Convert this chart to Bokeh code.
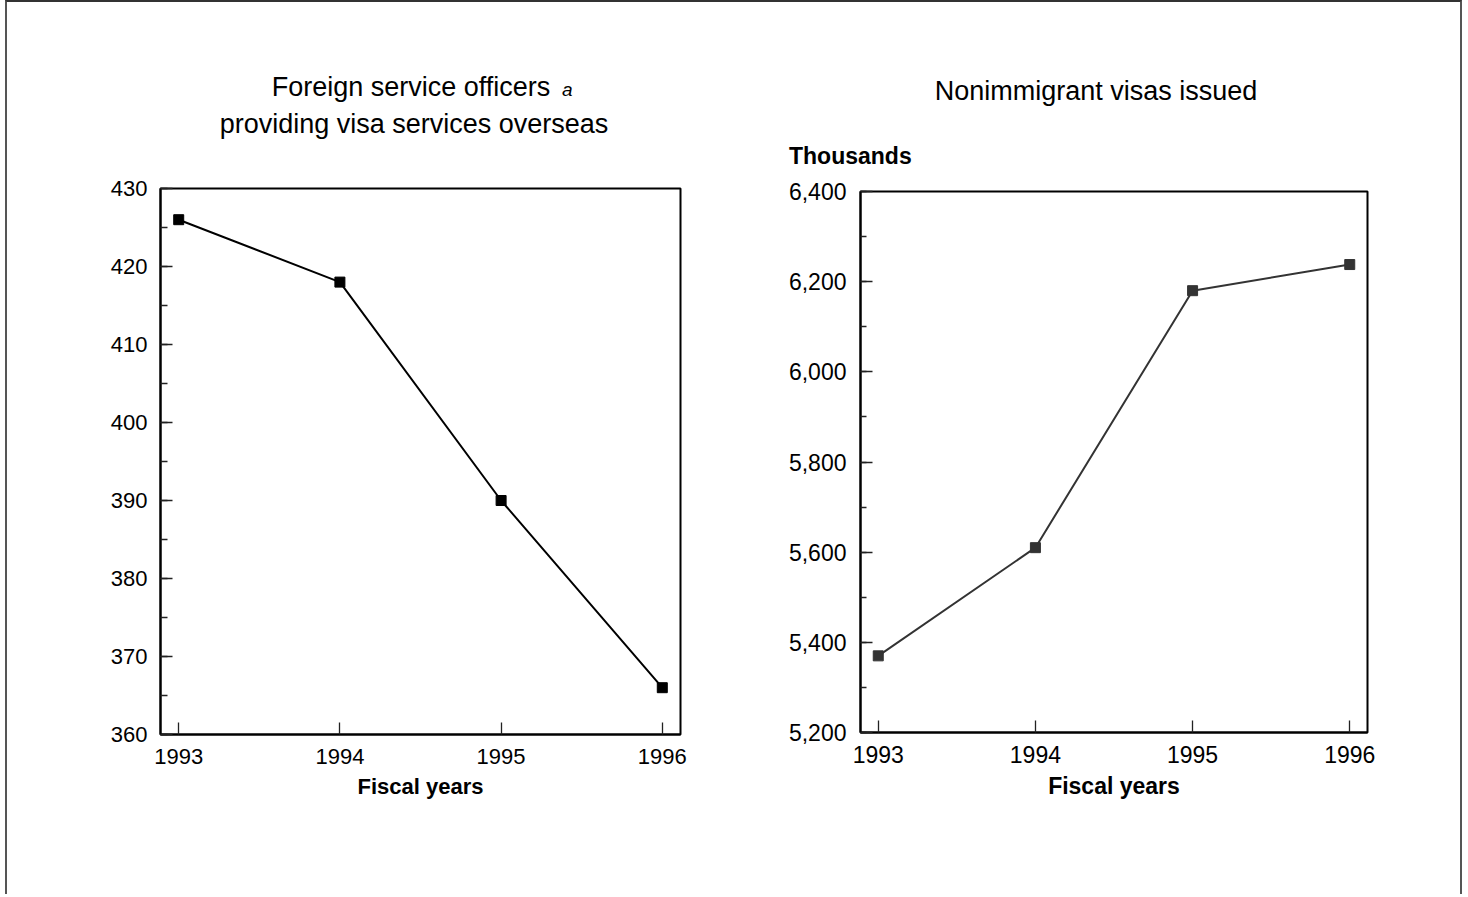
from bokeh.plotting import figure
from bokeh.layouts import row, column
from bokeh.models import (Range1d, FixedTicker, SingleIntervalTicker,
                          NumeralTickFormatter, Div)
from bokeh.embed import file_html
from bokeh.resources import INLINE

# ---------------- data ----------------
years = [1993, 1994, 1995, 1996]
officers = [426, 418, 390, 366]
visas_thousands = [5370, 5610, 6180, 6238]

left_title_1 = "Foreign service officers"
left_title_note = "a"
left_title_2 = "providing visa services overseas"
right_title = "Nonimmigrant visas issued"
right_unit = "Thousands"
x_label = "Fiscal years"

FONT = "Liberation Sans"


def style(p, tick_px, label_px, minor_in, x_standoff, label_standoff, y_standoff):
    p.xgrid.visible = False
    p.ygrid.visible = False
    p.outline_line_color = "black"
    p.outline_line_width = 2
    p.outline_line_alpha = 1
    p.background_fill_color = "white"
    p.border_fill_color = "white"
    for ax in (p.xaxis, p.yaxis):
        ax.axis_line_color = "black"
        ax.axis_line_width = 2
        ax.major_tick_in = 12
        ax.major_tick_out = 0
        ax.major_tick_line_color = "#222222"
        ax.major_tick_line_width = 1.3
        ax.minor_tick_line_color = "#222222"
        ax.minor_tick_line_width = 1.3
        ax.major_label_text_font = FONT
        ax.major_label_text_font_size = tick_px
        ax.major_label_text_color = "black"
        ax.axis_label_text_font = FONT
        ax.axis_label_text_font_size = label_px
        ax.axis_label_text_font_style = "bold"
        ax.axis_label_text_color = "black"
    p.xaxis.minor_tick_in = 0
    p.xaxis.minor_tick_out = 0
    p.yaxis.minor_tick_in = minor_in
    p.yaxis.minor_tick_out = 0
    p.xaxis.ticker = FixedTicker(ticks=years, minor_ticks=[])
    p.xaxis.major_label_standoff = x_standoff
    p.xaxis.axis_label = x_label
    p.xaxis.axis_label_standoff = label_standoff
    p.yaxis.major_label_standoff = y_standoff


# ---------------- left chart ----------------
p1 = figure(title=None, width=763, height=722,
            min_border_left=153, min_border_right=90,
            min_border_top=16, min_border_bottom=160,
            x_range=Range1d(1992.887, 1996.113), y_range=Range1d(360, 430),
            output_backend="svg", toolbar_location=None)
style(p1, "22px", "22px", 7, 14, 7, 13)
p1.yaxis.ticker = SingleIntervalTicker(interval=10, num_minor_ticks=2)
p1.line(years, officers, line_color="black", line_width=2)
p1.scatter(years, officers, marker="square", size=10, color="black")

# ---------------- right chart ----------------
p2 = figure(title=None, width=690, height=717,
            min_border_left=90, min_border_right=93,
            min_border_top=16, min_border_bottom=160,
            x_range=Range1d(1992.887, 1996.113), y_range=Range1d(5200, 6400),
            output_backend="svg", toolbar_location=None)
style(p2, "23px", "23px", 6, 13, 7, 14)
p2.yaxis.ticker = SingleIntervalTicker(interval=200, num_minor_ticks=2)
p2.yaxis.formatter = NumeralTickFormatter(format="0,0")
p2.line(years, visas_thousands, line_color="#333333", line_width=2)
p2.scatter(years, visas_thousands, marker="square", size=10, color="#333333")

# ---------------- titles ----------------
def span(text, left, top, size, width=None, extra=""):
    w = f"width:{width}px;text-align:center;" if width else ""
    return (f'<div style="position:absolute;left:{left}px;top:{top}px;{w}'
            f'font-family:\'{FONT}\';font-size:{size}px;line-height:1;'
            f'color:black;white-space:nowrap;{extra}">{text}</div>')

html1 = ('<div style="position:relative;width:763px;height:170px;">'
         + span(left_title_1, 104, 72, 27, 600)
         + span(left_title_note, 555, 78, 19, None, "font-style:italic;")
         + span(left_title_2, 107, 109, 27, 600)
         + '</div>')
html2 = ('<div style="position:relative;width:690px;height:173px;">'
         + span(right_title, 26, 76, 27, 600)
         + span(right_unit, 19, 143, 23, None, "font-weight:bold;")
         + '</div>')
div1 = Div(text=html1, width=763, height=170, margin=0)
div2 = Div(text=html2, width=690, height=173, margin=0)

layout = row(column(div1, p1), column(div2, p2), styles={
    "border-left": "2px solid #555555",
    "border-top": "2px solid #333333",
    "border-right": "2px solid #555555",
    "margin-left": "5px",
})

open("out.html", "w").write(file_html(layout, INLINE))
